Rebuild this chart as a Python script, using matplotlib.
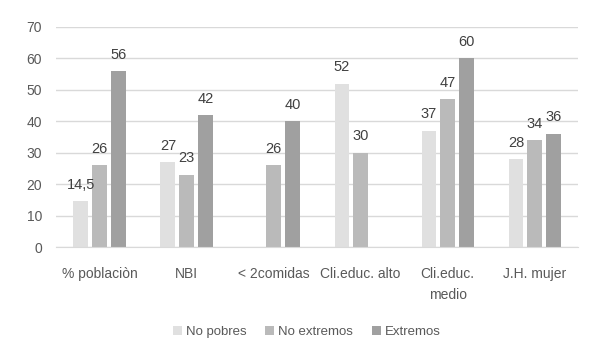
import matplotlib.pyplot as plt
import numpy as np

plt.rcParams['font.family'] = ['Liberation Sans', 'DejaVu Sans']

categories = ['% poblaciòn', 'NBI', '< 2comidas', 'Cli.educ. alto', 'Cli.educ.\nmedio', 'J.H. mujer']
no_pobres = [14.5, 27, np.nan, 52, 37, 28]
no_extremos = [26, 23, 26, 30, 47, 34]
extremos = [56, 42, 40, np.nan, 60, 36]
labels = ['No pobres', 'No extremos', 'Extremos']
colors = ['#e0e0e0', '#bababa', '#a0a0a0']
txt = '#595959'

fig = plt.figure(figsize=(5.9, 3.5), dpi=100)
ax = fig.add_axes([0.095, 0.294, 0.885, 0.629])

x = np.arange(len(categories))
w = 0.17
step = 0.215
for i, (vals, lab, c) in enumerate(zip([no_pobres, no_extremos, extremos], labels, colors)):
    xs = x + (i - 1) * step
    ax.bar(xs, vals, width=w, color=c, label=lab, zorder=2)
    for xi, v in zip(xs, vals):
        if not np.isnan(v):
            s = ('%g' % v).replace('.', ',')
            ax.text(xi, v + 3, s, ha='center', va='bottom', fontsize=10.5, color='#404040')

ax.set_xlim(-0.5, len(categories) - 0.5)
ax.set_ylim(0, 70)
ax.set_yticks(range(0, 71, 10))
ax.yaxis.grid(True, color='#d9d9d9', linewidth=1, zorder=0)
ax.set_xticks(x)
ax.set_xticklabels(categories, fontsize=10, color=txt, linespacing=1.7)
ax.tick_params(axis='y', labelsize=10, labelcolor=txt, length=0, pad=10)
ax.tick_params(axis='x', length=0, pad=14)
for s in ['top', 'right', 'left']:
    ax.spines[s].set_visible(False)
ax.spines['bottom'].set_color('#d9d9d9')

fig.legend(loc='lower center', bbox_to_anchor=(0.52, 0.0), ncol=3, frameon=False,
           fontsize=9.5, handlelength=0.7, handleheight=0.7, handletextpad=0.3,
           columnspacing=1.4, labelcolor=txt)

fig.savefig('out.png', dpi=100)
